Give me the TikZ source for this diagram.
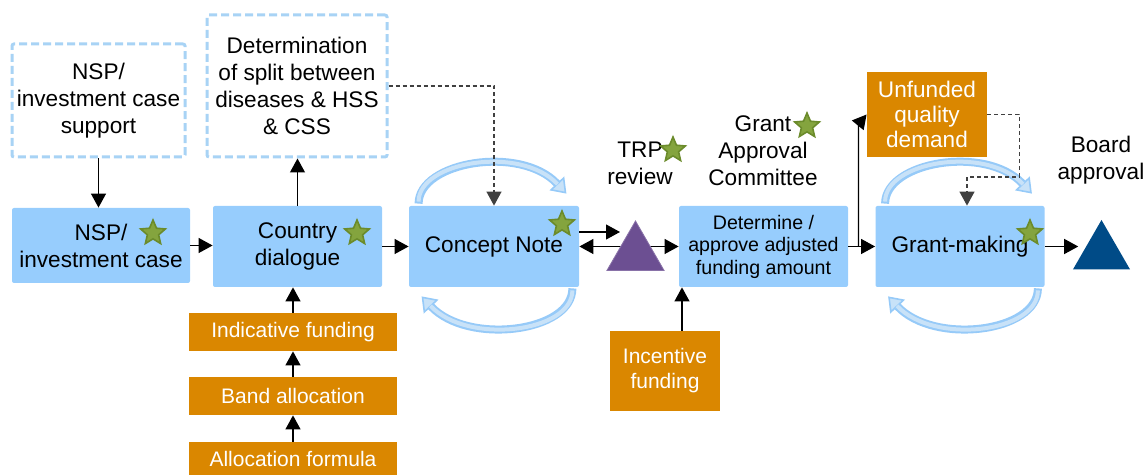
\documentclass[tikz,border=0pt]{standalone}
\usepackage{fontspec}
\setmainfont{Liberation Sans}
\usetikzlibrary{shapes.geometric,arrows.meta,calc,backgrounds}

\definecolor{BoxBlue}{RGB}{151,205,253}
\definecolor{DashBlue}{RGB}{168,211,245}
\definecolor{FundOrange}{RGB}{218,135,0}
\definecolor{TrpPurple}{RGB}{108,79,146}
\definecolor{BoardBlue}{RGB}{0,75,135}
\definecolor{StarGreen}{RGB}{132,164,62}
\definecolor{StarEdge}{RGB}{107,139,43}
\definecolor{LoopBlue}{RGB}{150,202,248}
\definecolor{LoopLight}{RGB}{200,226,248}

\tikzset{
	stage/.style={fill=BoxBlue, rounded corners=1pt, minimum width=84.5pt, minimum height=40.5pt, inner sep=0pt, align=center},
	support/.style={draw=DashBlue, line width=1.5pt, dash pattern=on 4pt off 2pt, rounded corners=1pt, inner sep=0pt, align=center},
	funding/.style={fill=FundOrange, text=white, inner sep=0pt, align=center, font=\fontsize{10.5}{12.5}\selectfont},
	milestone/.style={regular polygon, regular polygon sides=3, minimum size=33pt, inner sep=0pt},
	award/.style={star, star points=5, star point ratio=2.2, minimum size=13pt, inner sep=0pt, fill=StarGreen, draw=StarEdge, line width=0.8pt},
	arr/.style={-{Triangle[length=7pt,width=7.5pt]}, line width=0.6pt},
	dashcon/.style={arr, draw=black!75, dash pattern=on 2pt off 1.5pt},
	loopback/.style={draw=LoopBlue, line width=4pt, -{Triangle[length=7pt,width=10pt,line width=0.8pt,fill=LoopLight]},
		postaction={draw=LoopLight, line width=2pt, -, shorten >=6.5pt, shorten <=1pt}}
}

\begin{document}
\begin{tikzpicture}[x=0.5pt, y=-0.5pt, font=\fontsize{11.3}{13.5}\selectfont]

	\useasboundingbox (0,0) rectangle (1148,475);

	% Support boxes

	\node [support, minimum width=86.5pt, minimum height=56.5pt] (support) at (98.5,100.5) {NSP/\\investment case\\support};
	\node [support, minimum width=90pt, minimum height=71pt] (split) at (297,86) {Determination\\of split between\\diseases \& HSS\\\& CSS};

	% Main stages

	\node [stage, minimum width=89pt, minimum height=37.5pt] (nsp) at (101,245.5) {NSP/\\investment case};
	\node [stage] (country) at (297.5,246.5) {Country\\dialogue};
	\node [stage, minimum width=85pt] (concept) at (494,246.5) {Concept Note};
	\node [stage, font=\fontsize{9.8}{11.25}\selectfont] (determine) at (763.5,246.5) {Determine /\\approve adjusted\\funding amount};
	\node [stage] (grant) at (960,246.5) {Grant-making};

	\node [milestone, fill=TrpPurple, draw=TrpPurple!80!white] (trp) at (635.5,254) {};
	\node [milestone, fill=BoardBlue] (board) at (1101.5,253) {};

	% Funding boxes

	\node [funding, minimum width=104pt, minimum height=19pt] (indicative) at (293,332) {Indicative funding};
	\node [funding, minimum width=104pt, minimum height=19pt] (band) at (293,396) {Band allocation};
	\node [funding, minimum width=104pt, minimum height=16.5pt] (formula) at (293,458.5) {Allocation formula};
	\node [funding, minimum width=55pt, minimum height=40pt] (incentive) at (665,371) {Incentive\\funding};
	\node [funding, minimum width=60pt, minimum height=42.5pt, font=\fontsize{11.3}{12.3}\selectfont] (unfunded) at (927,114.5) {Unfunded\\quality\\demand};

	% Labels

	\node [align=center] (trplabel) at (640,163.5) {TRP\\review};
	\node [align=center] (gaclabel) at (763,150.5) {Grant\\Approval\\Committee};
	\node [align=center] (boardlabel) at (1101,160) {Board\\approval};

	% Stars

	\node [award] (nspstar) at (153,233) {};
	\node [award] (countrystar) at (357,233) {};
	\node [award] (conceptstar) at (562,224) {};
	\node [award] (grantstar) at (1030,233) {};
	\node [award] (trpstar) at (673,150) {};
	\node [award] (gacstar) at (807,126) {};

	% Iteration loops

	\foreach \n in {concept,grant} {
		\draw [loopback] ($(\n.north west)+(10,-2)$) .. controls +(0,-42) and +(-46,-49) .. ($(\n.north east)+(-13,-12)$);
		\draw [loopback] ($(\n.south east)+(-7,1)$) .. controls +(0,44) and +(46,49) .. ($(\n.south west)+(13,9)$);
	}

	% Connectors

	\draw [arr] (support.south) -- (support.south |- nsp.north);
	\draw [arr] (nsp.east) -- (nsp.east -| country.west);
	\draw [arr] (country.north) -- (country.north |- split.south);
	\draw [arr] (country) -- (concept);
	\draw [dashcon] (split.east) -| (concept.north);

	\draw [arr] (indicative.north) -- (indicative.north |- country.south);
	\draw [arr] (band) -- (indicative);
	\draw [arr] (formula) -- (band);

	\coordinate (trpin) at (620,232);
	\draw [arr] ([yshift=7.25pt]concept.east) -- (trpin);
	\begin{scope}[on background layer]
		\draw [arr] (trp.center |- concept.east) -- (concept.east);
		\draw [arr] (trp.center |- determine.west) -- (determine.west);
	\end{scope}

	\draw [arr] ([xshift=8.5pt]incentive.north) -- ([xshift=8.5pt]incentive.north |- determine.south);
	\draw [arr] (determine) -- (grant);
	\draw [arr] (determine.east) ++(10,0) -- ++(0,-122) -- (unfunded.west);
	\draw [dashcon] (unfunded.east) -- ++(32,0) -- ++(0,62.5) -| ([xshift=3.5pt]grant.north);
	\draw [arr] (grant.east) -- ([xshift=3pt]grant.east -| board.corner 2);

\end{tikzpicture}
\end{document}
